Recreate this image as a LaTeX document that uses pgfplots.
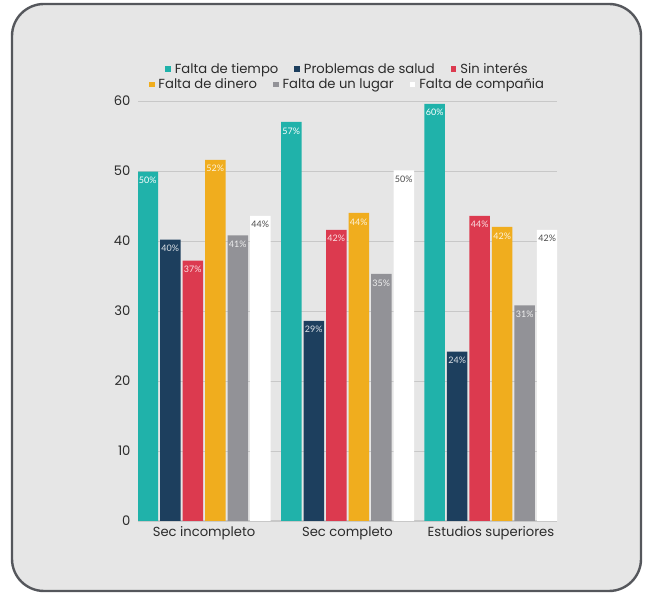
\documentclass[border=0pt]{standalone}
\usepackage{fontspec}
\setmainfont{Poppins}
\newfontfamily\lato{Lato}
\usepackage{pgfplots}
\pgfplotsset{compat=1.18}

\definecolor{cTeal}{HTML}{20B2AA}
\definecolor{cNavy}{HTML}{1D3F5E}
\definecolor{cRed}{HTML}{DC3A4F}
\definecolor{cOrange}{HTML}{F0AD1E}
\definecolor{cGray}{HTML}{929297}
\definecolor{bgC}{HTML}{E6E6E6}
\definecolor{frameC}{HTML}{55575C}
\definecolor{gridC}{HTML}{C8C8C8}
\definecolor{txtC}{HTML}{2B2B2B}

\pgfplotsset{
  sqleg/.style={legend image code/.code={\fill[##1] (0bp,-2.8bp) rectangle (5.6bp,2.8bp);}},
  lbl/.style={every node near coord/.append style={text=#1}},
  legrow/.style={legend columns=-1,
    legend style={draw=none, fill=none, at={(0.5,1)}, anchor=center, yshift=#1,
      font=\fontsize{13.2}{15}\selectfont, text=txtC,
      /tikz/every odd column/.append style={column sep=2bp},
      /tikz/every even column/.append style={column sep=14bp}}},
}

\begin{document}
\begin{tikzpicture}
\path[use as bounding box] (0bp,0bp) rectangle (646bp,595bp);
\draw[line width=2.4bp, draw=frameC, fill=bgC, rounded corners=32bp]
  (12bp,4bp) rectangle (641bp,591bp);

\begin{axis}[
  at={(138bp,74bp)}, anchor=south west,
  scale only axis, width=419bp, height=420bp,
  ybar=2bp, bar width=20.5bp,
  xmin=-0.46, xmax=2.46, ymin=0, ymax=60,
  xtick={0,1,2},
  xticklabels={Sec incompleto, Sec completo, Estudios superiores},
  ytick={0,10,...,60},
  axis x line=bottom, axis y line=left,
  y axis line style={draw=none},
  x axis line style={draw=gridC, line width=1bp, -},
  tick style={draw=none}, major tick length=0pt,
  ymajorgrids, grid style={draw=gridC, line width=0.9bp},
  /pgf/number format/assume math mode=true,
  ticklabel style={font=\fontsize{13.2}{15}\selectfont, text=txtC},
  xticklabel style={yshift=-2bp},
  yticklabel style={xshift=-4bp},
  nodes near coords={\pgfmathprintnumber[fixed,precision=0,assume math mode=true]{\pgfplotspointmeta}\%},
  every node near coord/.append style={font=\lato\fontsize{9}{10}\selectfont, anchor=north, inner sep=3bp, yshift=-2.5bp},
  legrow=32bp,
]
\addplot[fill=cTeal, draw=none, sqleg, lbl=white] coordinates {(0,49.9) (1,57.0) (2,59.6)};
\addplot[fill=cNavy, draw=none, sqleg, lbl=white!85!cNavy] coordinates {(0,40.2) (1,28.6) (2,24.2)};
\addplot[fill=cRed, draw=none, sqleg, lbl=white!85!cRed] coordinates {(0,37.2) (1,41.6) (2,43.6)};
\addplot[fill=cOrange, draw=none, sqleg, lbl=white!85!cOrange] coordinates {(0,51.6) (1,44.0) (2,42.0)};
\addplot[fill=cGray, draw=none, sqleg, lbl=white!85!cGray] coordinates {(0,40.8) (1,35.3) (2,30.8)};
\addplot[fill=white, draw=none, sqleg, lbl=black!70] coordinates {(0,43.6) (1,50.1) (2,41.6)};
\legend{Falta de tiempo, Problemas de salud, Sin interés}
\end{axis}

% second legend row
\begin{axis}[
  at={(138bp,74bp)}, anchor=south west,
  scale only axis, width=419bp, height=420bp,
  xmin=-0.46, xmax=2.46, ymin=0, ymax=60,
  hide axis,
  legend image code/.code={\fill[#1] (0bp,-2.8bp) rectangle (5.6bp,2.8bp);},
  legrow=16.5bp,
]
\addlegendimage{fill=cOrange, draw=none}
\addlegendentry{Falta de dinero}
\addlegendimage{fill=cGray, draw=none}
\addlegendentry{Falta de un lugar}
\addlegendimage{fill=white, draw=none}
\addlegendentry{Falta de compañia}
\end{axis}
\end{tikzpicture}
\end{document}
